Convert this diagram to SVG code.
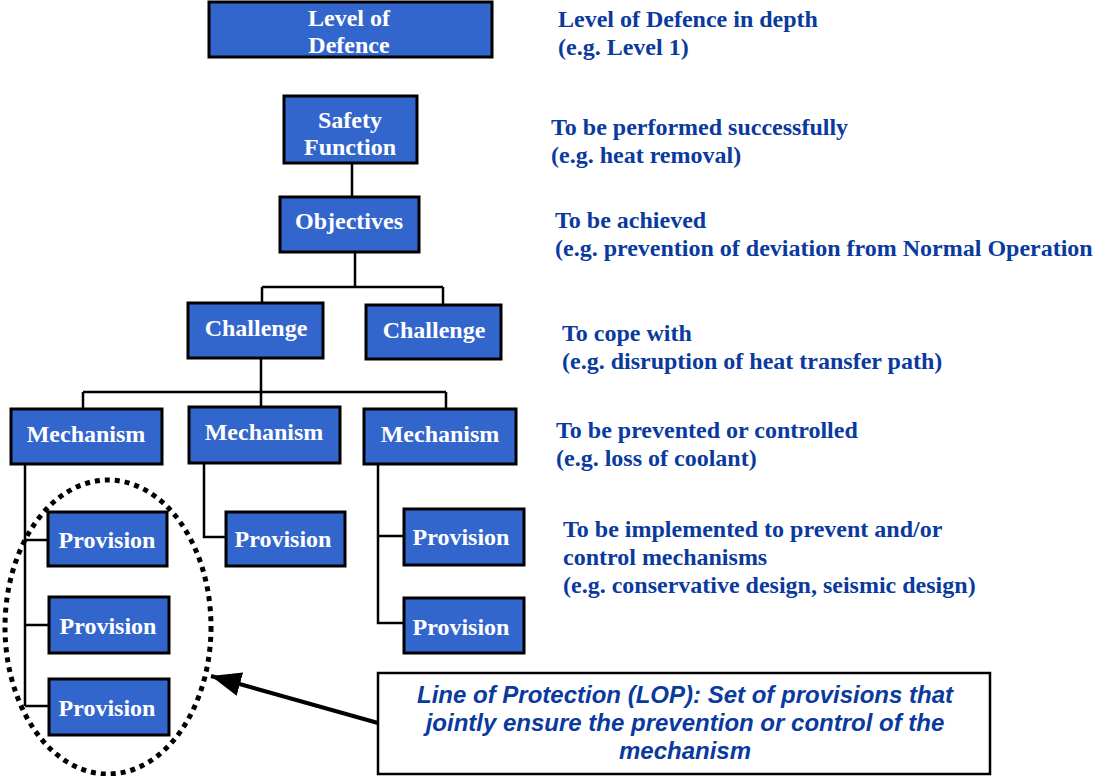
<svg xmlns="http://www.w3.org/2000/svg" width="1096" height="776" viewBox="0 0 1096 776">
  <defs>
    <style>
      .box { fill: #3366CC; stroke: #000; stroke-width: 3; }
      .bt { font-family: "Liberation Serif", "Times New Roman", serif; font-weight: bold; font-size: 24px; fill: #fff; text-anchor: middle; }
      .note { font-family: "Liberation Serif", "Times New Roman", serif; font-weight: bold; font-size: 24px; fill: #0B3A9E; }
      .lop { font-family: "Liberation Sans", Arial, sans-serif; font-weight: bold; font-style: italic; font-size: 24px; fill: #0B3A9E; text-anchor: middle; }
      .wire { fill: none; stroke: #000; stroke-width: 2.5; }
    </style>
    <marker id="arrow" viewBox="0 0 30 24" refX="30" refY="12" markerWidth="30" markerHeight="24" markerUnits="userSpaceOnUse" orient="auto">
      <path d="M0,0 L30,12 L0,24 z" fill="#000"/>
    </marker>
  </defs>

  <!-- tree connectors -->
  <g id="connectors">
    <path class="wire" d="M352,163 V197"/>
    <path class="wire" d="M355,252 V287 M262,287 H443 M262,287 V303 M443,287 V305"/>
    <path class="wire" d="M261,358 V392 M83,392 H446 M83,392 V409 M261,392 V407 M446,392 V409"/>
    <path class="wire" d="M25,464 V706 M25,540 H48 M25,625 H49 M25,706 H49"/>
    <path class="wire" d="M204,463 V537 H226"/>
    <path class="wire" d="M378,464 V623 H404 M378,536 H404"/>
    <line x1="378" y1="723" x2="211" y2="676" stroke="#000" stroke-width="4" marker-end="url(#arrow)"/>
  </g>

  <g id="level-of-defence">
    <rect class="box" x="209" y="2" width="283" height="55"/>
    <text class="bt" x="349" y="26">Level of</text>
    <text class="bt" x="349" y="53">Defence</text>
  </g>
  <g id="safety-function">
    <rect class="box" x="284" y="96" width="133" height="67"/>
    <text class="bt" x="350" y="128">Safety</text>
    <text class="bt" x="350" y="155">Function</text>
  </g>
  <g id="objectives">
    <rect class="box" x="280" y="197" width="139" height="55"/>
    <text class="bt" x="349" y="229">Objectives</text>
  </g>
  <g id="challenge-1">
    <rect class="box" x="188" y="303" width="135" height="55"/>
    <text class="bt" x="256" y="336">Challenge</text>
  </g>
  <g id="challenge-2">
    <rect class="box" x="366" y="305" width="135" height="54"/>
    <text class="bt" x="434" y="338">Challenge</text>
  </g>
  <g id="mechanism-1">
    <rect class="box" x="11" y="409" width="151" height="55"/>
    <text class="bt" x="86" y="442">Mechanism</text>
  </g>
  <g id="mechanism-2">
    <rect class="box" x="189" y="407" width="151" height="56"/>
    <text class="bt" x="264" y="440">Mechanism</text>
  </g>
  <g id="mechanism-3">
    <rect class="box" x="364" y="409" width="152" height="55"/>
    <text class="bt" x="440" y="442">Mechanism</text>
  </g>
  <g id="provision-1a">
    <rect class="box" x="48" y="512" width="119" height="54"/>
    <text class="bt" x="107" y="548">Provision</text>
  </g>
  <g id="provision-1b">
    <rect class="box" x="49" y="597" width="120" height="56"/>
    <text class="bt" x="108" y="634">Provision</text>
  </g>
  <g id="provision-1c">
    <rect class="box" x="49" y="679" width="120" height="56"/>
    <text class="bt" x="107" y="716">Provision</text>
  </g>
  <g id="provision-2a">
    <rect class="box" x="226" y="512" width="119" height="54"/>
    <text class="bt" x="283" y="547">Provision</text>
  </g>
  <g id="provision-3a">
    <rect class="box" x="404" y="509" width="120" height="56"/>
    <text class="bt" x="461" y="545">Provision</text>
  </g>
  <g id="provision-3b">
    <rect class="box" x="404" y="598" width="120" height="55"/>
    <text class="bt" x="461" y="635">Provision</text>
  </g>

  <!-- line of protection grouping -->
  <g id="lop-ellipse">
    <ellipse cx="108" cy="627" rx="103" ry="147" fill="none" stroke="#000" stroke-width="5" stroke-dasharray="5 5"/>
  </g>
  <g id="lop-note">
    <rect x="378" y="673" width="612" height="101" fill="#fff" stroke="#000" stroke-width="2.5"/>
    <text class="lop" x="685" y="703">Line of Protection (LOP): Set of provisions that</text>
    <text class="lop" x="685" y="731">jointly ensure the prevention or control of the</text>
    <text class="lop" x="685" y="759">mechanism</text>
  </g>

  <!-- level descriptions -->
  <g id="notes">
    <text class="note" x="558" y="27">Level of Defence in depth</text>
    <text class="note" x="558" y="55">(e.g. Level 1)</text>
    <text class="note" x="551" y="135">To be performed successfully</text>
    <text class="note" x="551" y="163">(e.g. heat removal)</text>
    <text class="note" x="555" y="228">To be achieved</text>
    <text class="note" x="555" y="256">(e.g. prevention of deviation from Normal Operation</text>
    <text class="note" x="562" y="341">To cope with</text>
    <text class="note" x="562" y="369">(e.g. disruption of heat transfer path)</text>
    <text class="note" x="556" y="438">To be prevented or controlled</text>
    <text class="note" x="556" y="466">(e.g. loss of coolant)</text>
    <text class="note" x="563" y="537">To be implemented to prevent and/or</text>
    <text class="note" x="563" y="565">control mechanisms</text>
    <text class="note" x="563" y="593">(e.g. conservative design, seismic design)</text>
  </g>
</svg>
